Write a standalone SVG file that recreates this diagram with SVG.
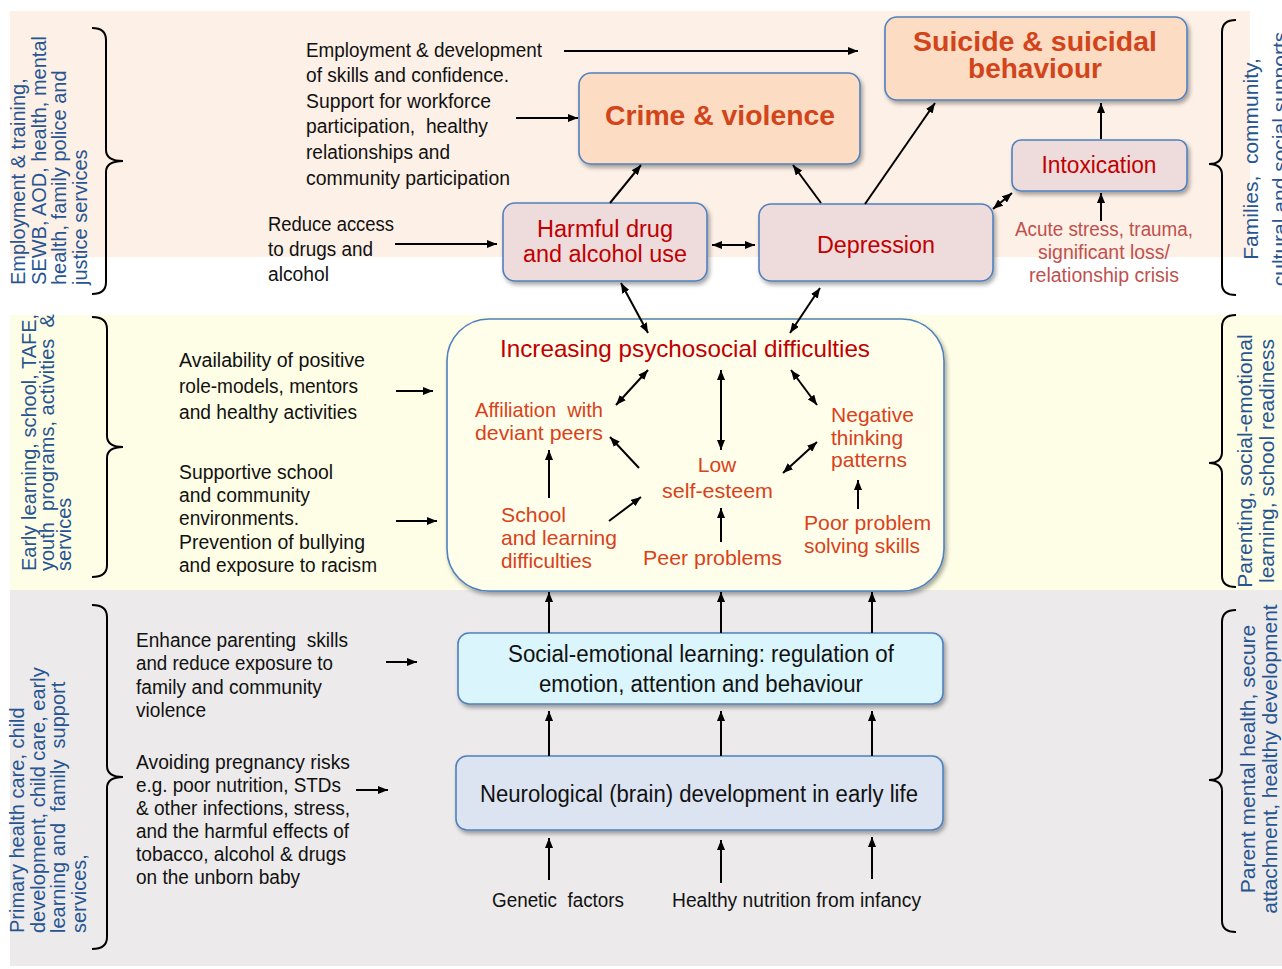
<svg xmlns="http://www.w3.org/2000/svg" width="1282" height="969" viewBox="0 0 1282 969">
  <defs>
    <marker id="ah" viewBox="0 0 10 8" refX="10" refY="4" markerWidth="10" markerHeight="8" markerUnits="userSpaceOnUse" orient="auto-start-reverse">
      <path d="M0,0 L10,4 L0,8 z" fill="#000"/>
    </marker>
    <filter id="shadow" x="-10%" y="-10%" width="130%" height="140%">
      <feDropShadow dx="2" dy="3" stdDeviation="2" flood-color="#000" flood-opacity="0.35"/>
    </filter>
  </defs>
  <style>
    .band-top { fill: #FDF0E6; }
    .band-mid { fill: #FEFDE6; }
    .band-low { fill: #ECEAEA; }
    .brace { fill: none; stroke: #000; stroke-width: 2; }
    .side { font-family: "Liberation Sans", Arial, sans-serif; font-size: 20px; fill: #275591; }
    .side-r { font-family: "Liberation Sans", Arial, sans-serif; font-size: 21px; fill: #275591; text-anchor: middle; }
    .note { font-family: "Liberation Sans", Arial, sans-serif; font-size: 20px; fill: #111; }
    .note2 { font-family: "Liberation Sans", Arial, sans-serif; font-size: 19.5px; fill: #111; }
    .box { stroke: #4F81BD; stroke-width: 1.6; filter: url(#shadow); }
    .outcome { fill: #FCDCC2; }
    .risk { fill: #EEDBDB; }
    .psy { fill: #FFFEEB; }
    .sel { fill: #DAF5FC; }
    .neuro { fill: #DCE4F1; }
    .big { font-family: "Liberation Sans", Arial, sans-serif; font-weight: bold; font-size: 28px; fill: #D2441A; text-anchor: middle; }
    .red { font-family: "Liberation Sans", Arial, sans-serif; font-size: 23px; fill: #C00000; text-anchor: middle; }
    .title { font-family: "Liberation Sans", Arial, sans-serif; font-size: 24px; fill: #C00000; }
    .inner { font-family: "Liberation Sans", Arial, sans-serif; font-size: 21px; fill: #D8421A; }
    .acute { font-family: "Liberation Sans", Arial, sans-serif; font-size: 20px; fill: #C0504D; text-anchor: middle; }
    .dark { font-family: "Liberation Sans", Arial, sans-serif; font-size: 23px; fill: #111; text-anchor: middle; }
    .conn line { stroke: #000; stroke-width: 2; marker-end: url(#ah); }
    .conn line.both { marker-start: url(#ah); }
  </style>

  <!-- background bands -->
  <rect class="band-top" x="10" y="11" width="1240" height="246"/>
  <rect class="band-mid" x="10" y="315" width="1272" height="275"/>
  <rect class="band-low" x="10" y="590" width="1272" height="376"/>

  <!-- left-hand service braces and labels -->
  <g id="services-left-top">
    <path class="brace" d="M92,28 Q106,28 106,40 L106,150 Q106,161 123,161 Q106,161 106,172 L106,282 Q106,294 92,294"/>
    <text class="side" transform="translate(25,285) rotate(-90)">
      <tspan x="0" dy="0">Employment &amp; training,</tspan>
      <tspan x="0" dy="20.7">SEWB, AOD, health, mental</tspan>
      <tspan x="0" dy="20.7">health, family police and</tspan>
      <tspan x="0" dy="20.7">justice services</tspan>
    </text>
  </g>
  <g id="services-left-mid">
    <path class="brace" d="M92,317 Q107,317 107,329 L107,436 Q107,447 123,447 Q107,447 107,458 L107,565 Q107,577 92,577"/>
    <text class="side" font-size="19.5" transform="translate(36,571) rotate(-90)" xml:space="preserve"><tspan x="0" dy="0">Early learning, school, TAFE,</tspan><tspan x="0" dy="17.5">youth  programs, activities  &amp;</tspan><tspan x="0" dy="17.5">services</tspan></text>
  </g>
  <g id="services-left-low">
    <path class="brace" d="M92,605 Q107,605 107,617 L107,766 Q107,777 123,777 Q107,777 107,788 L107,937 Q107,949 92,949"/>
    <text class="side" transform="translate(24,933) rotate(-90)" xml:space="preserve"><tspan x="0" dy="0">Primary health care, child</tspan><tspan x="0" dy="20.7">development, child care, early</tspan><tspan x="0" dy="20.7">learning and  family  support</tspan><tspan x="0" dy="20.7">services,</tspan></text>
  </g>

  <!-- right-hand support braces and labels -->
  <g id="supports-right-top">
    <path class="brace" d="M1236,20 Q1222,20 1222,32 L1222,153 Q1222,164 1209,164 Q1222,164 1222,175 L1222,284 Q1222,295 1236,295"/>
    <text class="side-r" transform="translate(1258,159) rotate(-90)" xml:space="preserve"><tspan x="0" dy="0">Families,  community,</tspan><tspan x="0" dy="28.5">cultural and social supports</tspan></text>
  </g>
  <g id="supports-right-mid">
    <path class="brace" d="M1236,315 Q1222,315 1222,327 L1222,452 Q1222,463 1209,463 Q1222,463 1222,474 L1222,576 Q1222,587 1236,587"/>
    <text class="side-r" transform="translate(1252,461) rotate(-90)"><tspan x="0" dy="0">Parenting, social-emotional</tspan><tspan x="0" dy="21.5">learning, school readiness</tspan></text>
  </g>
  <g id="supports-right-low">
    <path class="brace" d="M1236,610 Q1222,610 1222,622 L1222,769 Q1222,780 1209,780 Q1222,780 1222,791 L1222,921 Q1222,932 1236,932"/>
    <text class="side-r" transform="translate(1255,759) rotate(-90)"><tspan x="0" dy="0">Parent mental health, secure</tspan><tspan x="0" dy="21.5">attachment, healthy development</tspan></text>
  </g>

  <!-- intervention notes -->
  <g id="note-employment">
    <text class="note" font-size="21" x="306" y="57" textLength="236" lengthAdjust="spacingAndGlyphs">Employment &amp; development</text>
    <text class="note" font-size="21" x="306" y="82" textLength="203" lengthAdjust="spacingAndGlyphs">of skills and confidence.</text>
    <text class="note" font-size="21" x="306" y="108" textLength="185" lengthAdjust="spacingAndGlyphs">Support for workforce</text>
    <text class="note" font-size="21" x="306" y="133" textLength="182" lengthAdjust="spacingAndGlyphs" xml:space="preserve">participation,  healthy</text>
    <text class="note" font-size="21" x="306" y="159" textLength="144" lengthAdjust="spacingAndGlyphs">relationships and</text>
    <text class="note" font-size="21" x="306" y="185" textLength="204" lengthAdjust="spacingAndGlyphs">community participation</text>
  </g>
  <g id="note-access">
    <text class="note" x="268" y="231" textLength="126" lengthAdjust="spacingAndGlyphs">Reduce access</text>
    <text class="note" x="268" y="256" textLength="105" lengthAdjust="spacingAndGlyphs">to drugs and</text>
    <text class="note" x="268" y="281" textLength="61" lengthAdjust="spacingAndGlyphs">alcohol</text>
  </g>
  <g id="note-rolemodels">
    <text class="note2" x="179" y="367" textLength="186" lengthAdjust="spacingAndGlyphs">Availability of positive</text>
    <text class="note2" x="179" y="393" textLength="179" lengthAdjust="spacingAndGlyphs">role-models, mentors</text>
    <text class="note2" x="179" y="419" textLength="178" lengthAdjust="spacingAndGlyphs">and healthy activities</text>
  </g>
  <g id="note-school">
    <text class="note2" x="179" y="479" textLength="154" lengthAdjust="spacingAndGlyphs">Supportive school</text>
    <text class="note2" x="179" y="502" textLength="131" lengthAdjust="spacingAndGlyphs">and community</text>
    <text class="note2" x="179" y="525" textLength="120" lengthAdjust="spacingAndGlyphs">environments.</text>
    <text class="note2" x="179" y="549" textLength="186" lengthAdjust="spacingAndGlyphs">Prevention of bullying</text>
    <text class="note2" x="179" y="572" textLength="198" lengthAdjust="spacingAndGlyphs">and exposure to racism</text>
  </g>
  <g id="note-parenting">
    <text class="note2" x="136" y="647" textLength="212" lengthAdjust="spacingAndGlyphs" xml:space="preserve">Enhance parenting  skills</text>
    <text class="note2" x="136" y="670" textLength="197" lengthAdjust="spacingAndGlyphs">and reduce exposure to</text>
    <text class="note2" x="136" y="694" textLength="186" lengthAdjust="spacingAndGlyphs">family and community</text>
    <text class="note2" x="136" y="717" textLength="70" lengthAdjust="spacingAndGlyphs">violence</text>
  </g>
  <g id="note-pregnancy">
    <text class="note2" x="136" y="769" textLength="214" lengthAdjust="spacingAndGlyphs">Avoiding pregnancy risks</text>
    <text class="note2" x="136" y="792" textLength="205" lengthAdjust="spacingAndGlyphs">e.g. poor nutrition, STDs</text>
    <text class="note2" x="136" y="815" textLength="214" lengthAdjust="spacingAndGlyphs">&amp; other infections, stress,</text>
    <text class="note2" x="136" y="838" textLength="213" lengthAdjust="spacingAndGlyphs">and the harmful effects of</text>
    <text class="note2" x="136" y="861" textLength="210" lengthAdjust="spacingAndGlyphs">tobacco, alcohol &amp; drugs</text>
    <text class="note2" x="136" y="884" textLength="164" lengthAdjust="spacingAndGlyphs">on the unborn baby</text>
  </g>

  <!-- outcome and risk nodes -->
  <g id="suicide">
    <rect class="box outcome" x="885" y="17" width="302" height="83" rx="12"/>
    <text class="big" x="1035" y="51" textLength="244" lengthAdjust="spacingAndGlyphs">Suicide &amp; suicidal</text>
    <text class="big" x="1035" y="78">behaviour</text>
  </g>
  <g id="crime">
    <rect class="box outcome" x="579" y="73" width="281" height="91" rx="12"/>
    <text class="big" x="720" y="125" textLength="230" lengthAdjust="spacingAndGlyphs">Crime &amp; violence</text>
  </g>
  <g id="intoxication">
    <rect class="box risk" x="1012" y="140" width="175" height="51" rx="9"/>
    <text class="red" x="1099" y="173" textLength="115" lengthAdjust="spacingAndGlyphs">Intoxication</text>
  </g>
  <g id="acute-stress">
    <text class="acute" x="1104" y="236" textLength="178" lengthAdjust="spacingAndGlyphs">Acute stress, trauma,</text>
    <text class="acute" x="1104" y="259" textLength="132" lengthAdjust="spacingAndGlyphs">significant loss/</text>
    <text class="acute" x="1104" y="282" textLength="150" lengthAdjust="spacingAndGlyphs">relationship crisis</text>
  </g>
  <g id="harmful-use">
    <rect class="box risk" x="503" y="203" width="204" height="78" rx="12"/>
    <text class="red" x="605" y="237" textLength="136" lengthAdjust="spacingAndGlyphs">Harmful drug</text>
    <text class="red" x="605" y="262" textLength="164" lengthAdjust="spacingAndGlyphs">and alcohol use</text>
  </g>
  <g id="depression">
    <rect class="box risk" x="759" y="204" width="234" height="77" rx="12"/>
    <text class="red" x="876" y="253" textLength="118" lengthAdjust="spacingAndGlyphs">Depression</text>
  </g>

  <!-- psychosocial difficulties cluster -->
  <g id="psychosocial">
    <rect class="box psy" x="447" y="319" width="497" height="272" rx="42"/>
    <text class="title" x="500" y="357" textLength="370" lengthAdjust="spacingAndGlyphs">Increasing psychosocial difficulties</text>
  </g>
  <g id="affiliation">
    <text class="inner" x="475" y="417" textLength="128" lengthAdjust="spacingAndGlyphs" xml:space="preserve">Affiliation  with</text>
    <text class="inner" x="475" y="440" textLength="128" lengthAdjust="spacingAndGlyphs">deviant peers</text>
  </g>
  <g id="self-esteem">
    <text class="inner" x="717" y="472" text-anchor="middle">Low</text>
    <text class="inner" x="662" y="498" textLength="111" lengthAdjust="spacingAndGlyphs">self-esteem</text>
  </g>
  <g id="negative-thinking">
    <text class="inner" x="831" y="422" textLength="83" lengthAdjust="spacingAndGlyphs">Negative</text>
    <text class="inner" x="831" y="445" textLength="72" lengthAdjust="spacingAndGlyphs">thinking</text>
    <text class="inner" x="831" y="467" textLength="76" lengthAdjust="spacingAndGlyphs">patterns</text>
  </g>
  <g id="school-difficulties">
    <text class="inner" x="501" y="522" textLength="65" lengthAdjust="spacingAndGlyphs">School</text>
    <text class="inner" x="501" y="545" textLength="116" lengthAdjust="spacingAndGlyphs">and learning</text>
    <text class="inner" x="501" y="568" textLength="91" lengthAdjust="spacingAndGlyphs">difficulties</text>
  </g>
  <g id="peer-problems">
    <text class="inner" x="643" y="565" textLength="139" lengthAdjust="spacingAndGlyphs">Peer problems</text>
  </g>
  <g id="problem-solving">
    <text class="inner" x="804" y="530" textLength="127" lengthAdjust="spacingAndGlyphs">Poor problem</text>
    <text class="inner" x="804" y="553" textLength="116" lengthAdjust="spacingAndGlyphs">solving skills</text>
  </g>

  <!-- developmental foundations -->
  <g id="social-emotional">
    <rect class="box sel" x="458" y="633" width="485" height="71" rx="11"/>
    <text class="dark" x="701" y="662" textLength="386" lengthAdjust="spacingAndGlyphs">Social-emotional learning: regulation of</text>
    <text class="dark" x="701" y="692" textLength="324" lengthAdjust="spacingAndGlyphs">emotion, attention and behaviour</text>
  </g>
  <g id="neurological">
    <rect class="box neuro" x="456" y="756" width="487" height="74" rx="11"/>
    <text class="dark" x="699" y="802" textLength="438" lengthAdjust="spacingAndGlyphs">Neurological (brain) development in early life</text>
  </g>
  <g id="genetic">
    <text class="note" x="492" y="907" textLength="132" lengthAdjust="spacingAndGlyphs" xml:space="preserve">Genetic  factors</text>
  </g>
  <g id="nutrition">
    <text class="note" x="672" y="907" textLength="249" lengthAdjust="spacingAndGlyphs">Healthy nutrition from infancy</text>
  </g>

  <!-- connectors -->
  <g id="connectors" class="conn">
    <line x1="564" y1="51" x2="858" y2="51"/>
    <line x1="516" y1="118" x2="578" y2="118"/>
    <line x1="395" y1="244" x2="497" y2="244"/>
    <line class="both" x1="712" y1="245" x2="755" y2="245"/>
    <line x1="610" y1="203" x2="641" y2="165"/>
    <line x1="821" y1="203" x2="793" y2="165"/>
    <line x1="865" y1="204" x2="935" y2="103"/>
    <line x1="1101" y1="139" x2="1101" y2="103"/>
    <line x1="1101" y1="221" x2="1101" y2="193"/>
    <line class="both" x1="993" y1="209" x2="1012" y2="193"/>
    <line class="both" x1="621" y1="283" x2="648" y2="333"/>
    <line class="both" x1="820" y1="288" x2="790" y2="333"/>
    <line class="both" x1="616" y1="405" x2="648" y2="370"/>
    <line class="both" x1="721" y1="370" x2="721" y2="450"/>
    <line class="both" x1="791" y1="370" x2="817" y2="405"/>
    <line class="both" x1="783" y1="473" x2="817" y2="442"/>
    <line x1="639" y1="468" x2="610" y2="437"/>
    <line x1="549" y1="498" x2="549" y2="450"/>
    <line x1="609" y1="521" x2="641" y2="497"/>
    <line x1="721" y1="542" x2="721" y2="508"/>
    <line x1="858" y1="509" x2="858" y2="480"/>
    <line x1="396" y1="391" x2="433" y2="391"/>
    <line x1="396" y1="521" x2="437" y2="521"/>
    <line x1="386" y1="662" x2="417" y2="662"/>
    <line x1="356" y1="790" x2="388" y2="790"/>
    <line x1="549" y1="633" x2="549" y2="592"/>
    <line x1="721" y1="633" x2="721" y2="592"/>
    <line x1="872" y1="633" x2="872" y2="592"/>
    <line x1="549" y1="756" x2="549" y2="711"/>
    <line x1="721" y1="756" x2="721" y2="711"/>
    <line x1="872" y1="756" x2="872" y2="711"/>
    <line x1="549" y1="880" x2="549" y2="838"/>
    <line x1="721" y1="883" x2="721" y2="840"/>
    <line x1="872" y1="879" x2="872" y2="837"/>
  </g>
</svg>
